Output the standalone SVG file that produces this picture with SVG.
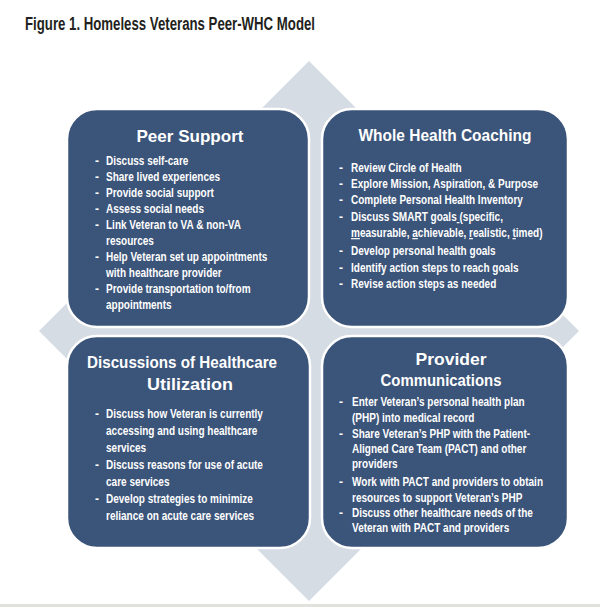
<svg xmlns="http://www.w3.org/2000/svg" width="600" height="607" viewBox="0 0 600 607">
<style>
.box{fill:#3b5479;stroke:#ffffff;stroke-width:2.5}
.ttl{font-family:"Liberation Sans",Arial,sans-serif;font-weight:bold;font-size:17px;fill:#ffffff;text-anchor:middle}
.bl{font-family:"Liberation Sans",Arial,sans-serif;font-weight:bold;font-size:12px;fill:#ffffff}
.dash{font-family:"Liberation Sans",Arial,sans-serif;font-weight:bold;font-size:12px;fill:#ffffff}
.u{text-decoration:underline}
</style>
<rect x="0" y="0" width="600" height="607" fill="#ffffff"/>
<rect x="0" y="604" width="600" height="3" fill="#e2e2dd"/>
<text x="25" y="30" font-family="'Liberation Sans',Arial,sans-serif" font-weight="bold" font-size="17.5" fill="#231f20" textLength="290" lengthAdjust="spacingAndGlyphs">Figure 1. Homeless Veterans Peer-WHC Model</text>
<polygon id="diamond" points="309,61 579,331 309,601 39,331" fill="#d6dce4"/>
<g id="connectors"></g>

<g id="peer-support">
<rect class="box" x="67" y="109" width="242" height="218" rx="30" ry="30"/>
<text class="ttl" x="190" y="142" textLength="107" lengthAdjust="spacingAndGlyphs">Peer Support</text>
<g class="dash"><text x="95" y="165">-</text><text x="95" y="181">-</text><text x="95" y="197">-</text><text x="95" y="213">-</text><text x="95" y="229">-</text><text x="95" y="261">-</text><text x="95" y="293">-</text></g>
<g transform="translate(106,0) scale(0.835,1)">
<text class="bl" x="0" y="165">Discuss self-care</text>
<text class="bl" x="0" y="181">Share lived experiences</text>
<text class="bl" x="0" y="197">Provide social support</text>
<text class="bl" x="0" y="213">Assess social needs</text>
<text class="bl" x="0" y="229">Link Veteran to VA &amp; non-VA</text>
<text class="bl" x="0" y="245">resources</text>
<text class="bl" x="0" y="261">Help Veteran set up appointments</text>
<text class="bl" x="0" y="277">with healthcare provider</text>
<text class="bl" x="0" y="293">Provide transportation to/from</text>
<text class="bl" x="0" y="309">appointments</text>
</g>
</g>

<g id="whole-health-coaching">
<rect class="box" x="322" y="109" width="246" height="218" rx="30" ry="30"/>
<text class="ttl" x="445" y="141" textLength="173" lengthAdjust="spacingAndGlyphs">Whole Health Coaching</text>
<g class="dash"><text x="339" y="172">-</text><text x="339" y="188">-</text><text x="339" y="204">-</text><text x="339" y="221">-</text><text x="339" y="255">-</text><text x="339" y="272">-</text><text x="339" y="288">-</text></g>
<g transform="translate(351,0) scale(0.835,1)">
<text class="bl" x="0" y="172">Review Circle of Health</text>
<text class="bl" x="0" y="188">Explore Mission, Aspiration, &amp; Purpose</text>
<text class="bl" x="0" y="204">Complete Personal Health Inventory</text>
<text class="bl" x="0" y="221" xml:space="preserve">Discuss SMART goals<tspan class="u"> </tspan>(specific,</text>
<text class="bl" x="0" y="237"><tspan class="u">m</tspan>easurable, <tspan class="u">a</tspan>chievable, <tspan class="u">r</tspan>ealistic, <tspan class="u">t</tspan>imed)</text>
<text class="bl" x="0" y="255">Develop personal health goals</text>
<text class="bl" x="0" y="272">Identify action steps to reach goals</text>
<text class="bl" x="0" y="288">Revise action steps as needed</text>
</g>
</g>

<g id="healthcare-utilization">
<rect class="box" x="67" y="336" width="243" height="212" rx="30" ry="30"/>
<text class="ttl" x="182" y="368" font-size="18.5" textLength="190" lengthAdjust="spacingAndGlyphs">Discussions of Healthcare</text>
<text class="ttl" x="190" y="390" font-size="18.5" textLength="86" lengthAdjust="spacingAndGlyphs">Utilization</text>
<g class="dash"><text x="95" y="418">-</text><text x="95" y="469">-</text><text x="95" y="503">-</text></g>
<g transform="translate(106,0) scale(0.835,1)">
<text class="bl" x="0" y="418">Discuss how Veteran is currently</text>
<text class="bl" x="0" y="435">accessing and using healthcare</text>
<text class="bl" x="0" y="452">services</text>
<text class="bl" x="0" y="469">Discuss reasons for use of acute</text>
<text class="bl" x="0" y="486">care services</text>
<text class="bl" x="0" y="503">Develop strategies to minimize</text>
<text class="bl" x="0" y="520">reliance on acute care services</text>
</g>
</g>

<g id="provider-communications">
<rect class="box" x="322" y="336" width="246" height="212" rx="30" ry="30"/>
<text class="ttl" x="451" y="365" font-size="17.5" textLength="71" lengthAdjust="spacingAndGlyphs">Provider</text>
<text class="ttl" x="441" y="386" font-size="17.5" textLength="121" lengthAdjust="spacingAndGlyphs">Communications</text>
<g class="dash"><text x="339" y="406">-</text><text x="339" y="438">-</text><text x="339" y="486">-</text><text x="339" y="517">-</text></g>
<g transform="translate(352,0) scale(0.835,1)">
<text class="bl" x="0" y="406">Enter Veteran’s personal health plan</text>
<text class="bl" x="0" y="422">(PHP) into medical record</text>
<text class="bl" x="0" y="438">Share Veteran’s PHP with the Patient-</text>
<text class="bl" x="0" y="453">Aligned Care Team (PACT) and other</text>
<text class="bl" x="0" y="468">providers</text>
<text class="bl" x="0" y="486">Work with PACT and providers to obtain</text>
<text class="bl" x="0" y="502">resources to support Veteran’s PHP</text>
<text class="bl" x="0" y="517">Discuss other healthcare needs of the</text>
<text class="bl" x="0" y="532">Veteran with PACT and providers</text>
</g>
</g>
</svg>
